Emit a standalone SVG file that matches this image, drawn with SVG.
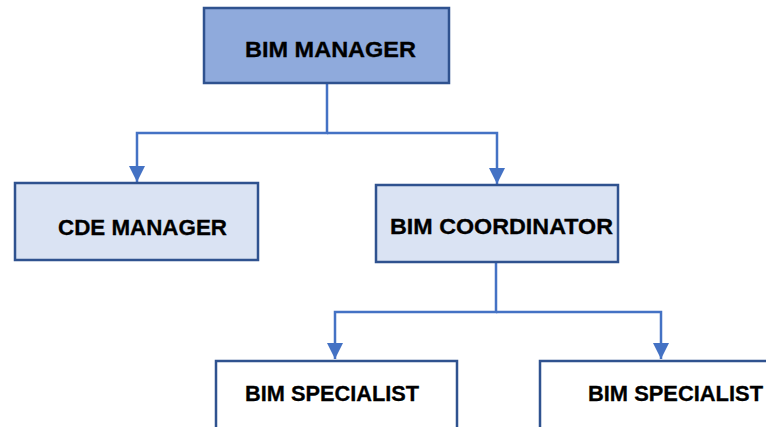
<svg xmlns="http://www.w3.org/2000/svg" width="766" height="427" viewBox="0 0 766 427">
<style>
.box{stroke:#2f528f;stroke-width:2.5}
.top{fill:#8faadc}
.mid{fill:#dae3f3}
.low{fill:#ffffff}
.lbl{font-family:"Liberation Sans",Arial,sans-serif;font-weight:bold;font-size:22px;fill:#000;stroke:#000;stroke-width:0.3}
.con{fill:none;stroke:#4472c4;stroke-width:2.5}
</style>
<defs>
<marker id="arr" viewBox="0 0 16 16" refX="16" refY="8" markerWidth="16" markerHeight="16" markerUnits="userSpaceOnUse" orient="auto">
<path d="M0,0 L16,8 L0,16 Z" fill="#4472c4"/>
</marker>
</defs>
<rect width="766" height="427" fill="#ffffff"/>
<g id="connectors">
<path class="con" d="M327,84 V133 H137 V182" marker-end="url(#arr)"/>
<path class="con" d="M327,133 H497 V184" marker-end="url(#arr)"/>
<path class="con" d="M496,263 V312 H335 V359" marker-end="url(#arr)"/>
<path class="con" d="M496,312 H661 V359" marker-end="url(#arr)"/>
</g>
<g id="bim-manager">
<rect class="box top" x="204" y="8" width="245" height="75"/>
<text class="lbl" x="245" y="57" textLength="171" lengthAdjust="spacingAndGlyphs">BIM MANAGER</text>
</g>
<g id="cde-manager">
<rect class="box mid" x="15" y="183" width="243" height="77"/>
<text class="lbl" x="58" y="235" textLength="169" lengthAdjust="spacingAndGlyphs">CDE MANAGER</text>
</g>
<g id="bim-coordinator">
<rect class="box mid" x="376" y="185" width="242" height="77"/>
<text class="lbl" x="390" y="234" textLength="223" lengthAdjust="spacingAndGlyphs">BIM COORDINATOR</text>
</g>
<g id="bim-specialist-1">
<rect class="box low" x="216" y="361" width="241" height="80"/>
<text class="lbl" x="245" y="401" textLength="174" lengthAdjust="spacingAndGlyphs">BIM SPECIALIST</text>
</g>
<g id="bim-specialist-2">
<rect class="box low" x="540" y="361" width="240" height="80"/>
<text class="lbl" x="588" y="401" textLength="175" lengthAdjust="spacingAndGlyphs">BIM SPECIALIST</text>
</g>
</svg>
